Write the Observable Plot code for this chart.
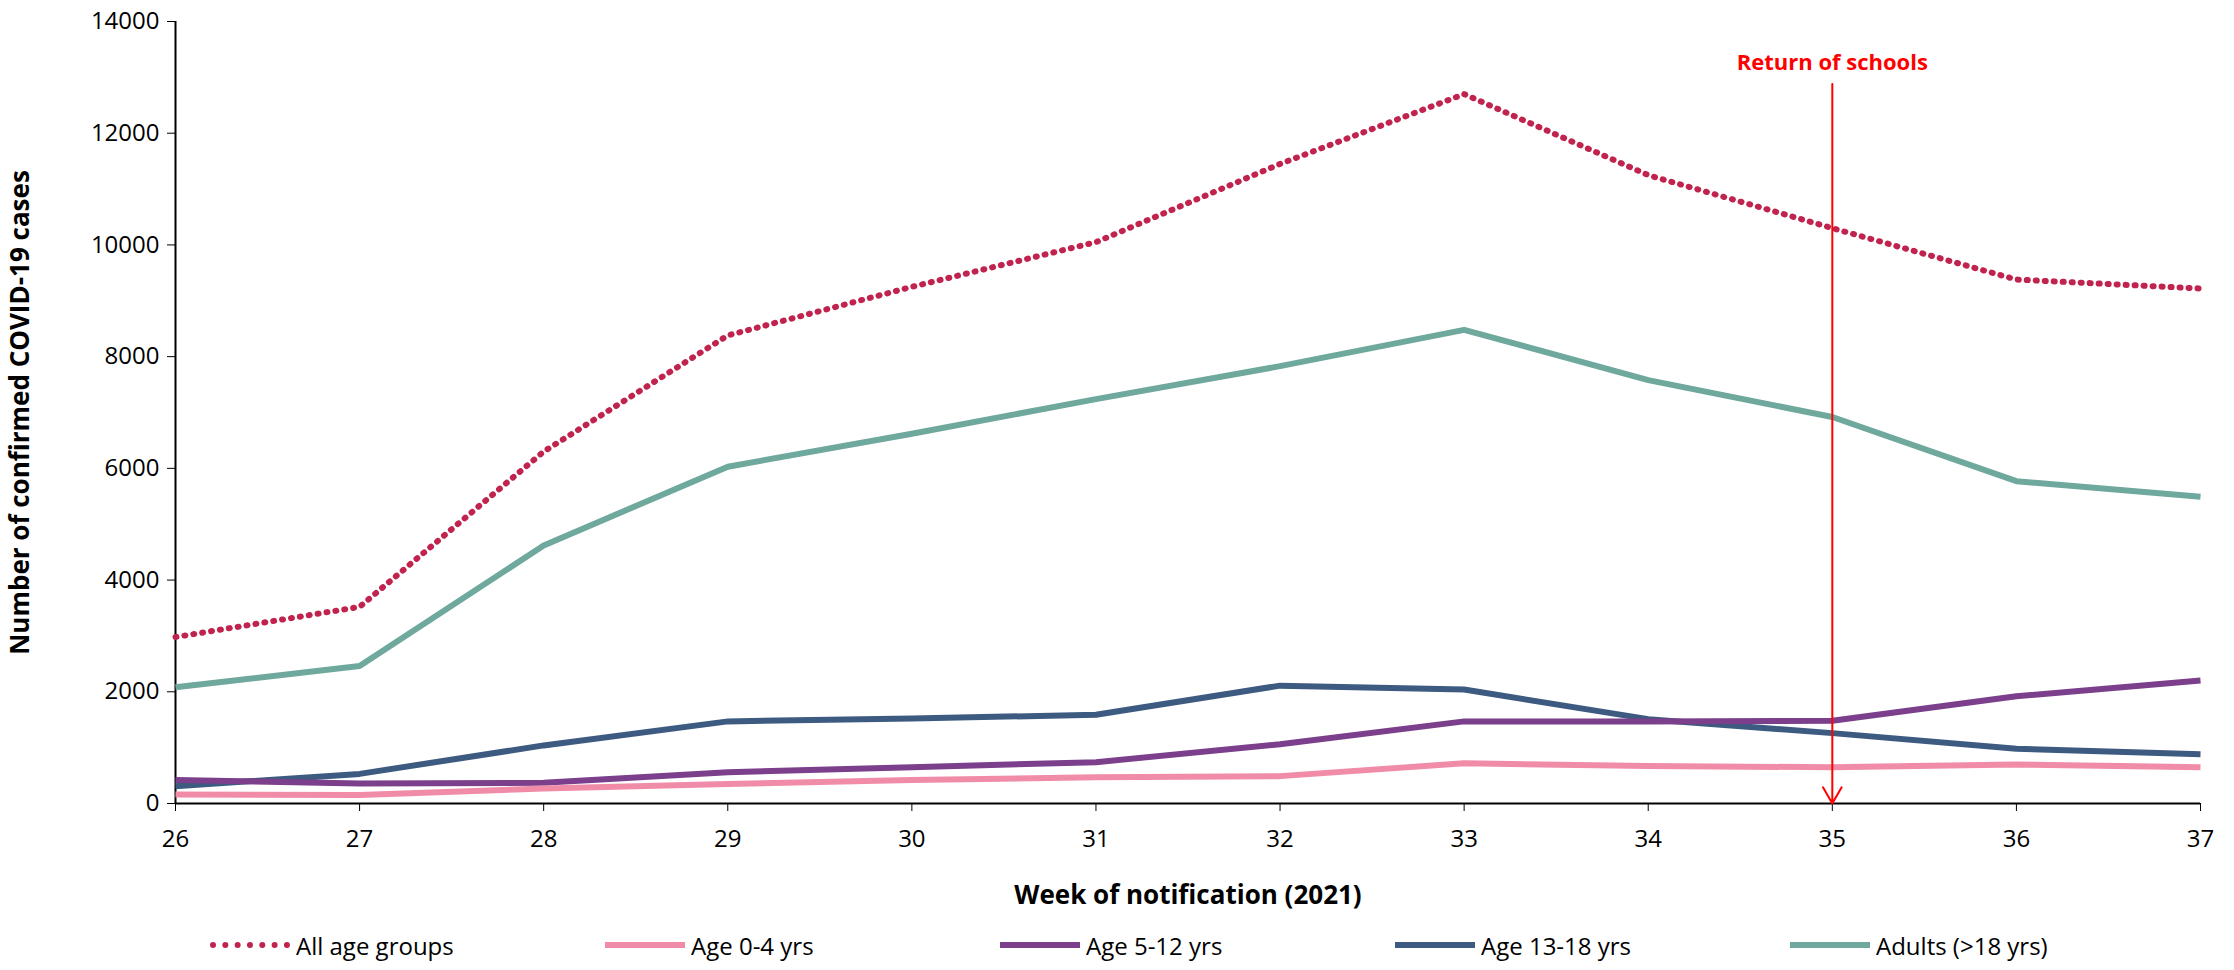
<!DOCTYPE html>
<html>
<head>
<meta charset="utf-8">
<script src="https://cdn.jsdelivr.net/npm/d3@7"></script>
<script src="https://cdn.jsdelivr.net/npm/@observablehq/plot@0.6"></script>
<style>
  body { margin: 0; background: #fff; font-family: "Liberation Sans Narrow", "Open Sans", sans-serif; }
  #legend { display: flex; gap: 0; margin-left: 210px; font-size: 24px; height: 50px; align-items: center; }
  .item { display: flex; align-items: center; width: 395px; }
  .sw { width: 80px; height: 0; margin-right: 6px; }
</style>
</head>
<body>
<div id="chart"></div>
<div id="legend"></div>
<script>
const weeks = [26, 27, 28, 29, 30, 31, 32, 33, 34, 35, 36, 37];
const allAges = [2980, 3520, 6300, 8380, 9250, 10050, 11450, 12700, 11250, 10300, 9380, 9220];
const age0to4 = [160, 150, 270, 350, 420, 470, 490, 720, 670, 650, 700, 650];
const age5to12 = [420, 360, 370, 560, 650, 740, 1060, 1470, 1470, 1480, 1920, 2200];
const age13to18 = [310, 530, 1040, 1470, 1520, 1590, 2110, 2040, 1510, 1260, 980, 880];
const adults = [2080, 2460, 4620, 6030, 6620, 7240, 7830, 8480, 7580, 6920, 5770, 5490];

const series = [
  {name: "All age groups", values: allAges, color: "#C0234E", dash: "1,8"},
  {name: "Age 0-4 yrs", values: age0to4, color: "#F08CA8", dash: null},
  {name: "Age 5-12 yrs", values: age5to12, color: "#7B3F8C", dash: null},
  {name: "Age 13-18 yrs", values: age13to18, color: "#3D5A80", dash: null},
  {name: "Adults (>18 yrs)", values: adults, color: "#6FA89C", dash: null}
];

const drawOrder = [4, 3, 2, 1, 0];

const chart = Plot.plot({
  width: 2234,
  height: 920,
  marginLeft: 175,
  marginRight: 34,
  marginTop: 21,
  marginBottom: 117,
  style: {fontFamily: "'Liberation Sans Narrow', 'Open Sans', sans-serif", fontSize: "24px", color: "#000"},
  x: {domain: [26, 37], ticks: weeks, tickFormat: d => String(d), label: "Week of notification (2021)", labelArrow: "none", labelAnchor: "center", labelOffset: 100, tickSize: 8, tickPadding: 18},
  y: {domain: [0, 14000], ticks: d3.range(0, 14001, 2000), tickFormat: d => String(d), label: "Number of confirmed COVID-19 cases", labelArrow: "none", labelAnchor: "center", labelOffset: 165, tickSize: 8, tickPadding: 8},
  marks: [
    Plot.ruleX([26], {stroke: "#000", strokeWidth: 2}),
    Plot.ruleY([0], {stroke: "#000", strokeWidth: 2}),
    ...drawOrder.map(i => {
      const s = series[i];
      return Plot.line(weeks.map((w, j) => ({week: w, cases: s.values[j]})), {
        x: "week", y: "cases", stroke: s.color, strokeWidth: 6,
        strokeDasharray: s.dash, strokeLinecap: s.dash ? "round" : "butt"
      });
    }),
    Plot.arrow([{x: 35, y1: 12880, y2: 0}], {x1: "x", x2: "x", y1: "y1", y2: "y2", stroke: "red", strokeWidth: 2, headLength: 14}),
    Plot.text([{x: 35, y: 13250, t: "Return of schools"}], {x: "x", y: "y", text: "t", fill: "red", fontWeight: "bold", fontSize: 22})
  ]
});
const svg = d3.select(chart);
svg.selectAll("[aria-label='x-axis label'] text, [aria-label='y-axis label'] text").attr("font-weight", "bold").attr("font-size", 26);
document.getElementById("chart").append(chart);

const legend = document.getElementById("legend");
series.forEach(s => {
  const item = document.createElement("div");
  item.className = "item";
  const sw = document.createElement("span");
  sw.className = "sw";
  sw.style.borderTop = s.dash ? `6px dotted ${s.color}` : `6px solid ${s.color}`;
  item.append(sw, document.createTextNode(s.name));
  legend.append(item);
});
</script>
</body>
</html>
